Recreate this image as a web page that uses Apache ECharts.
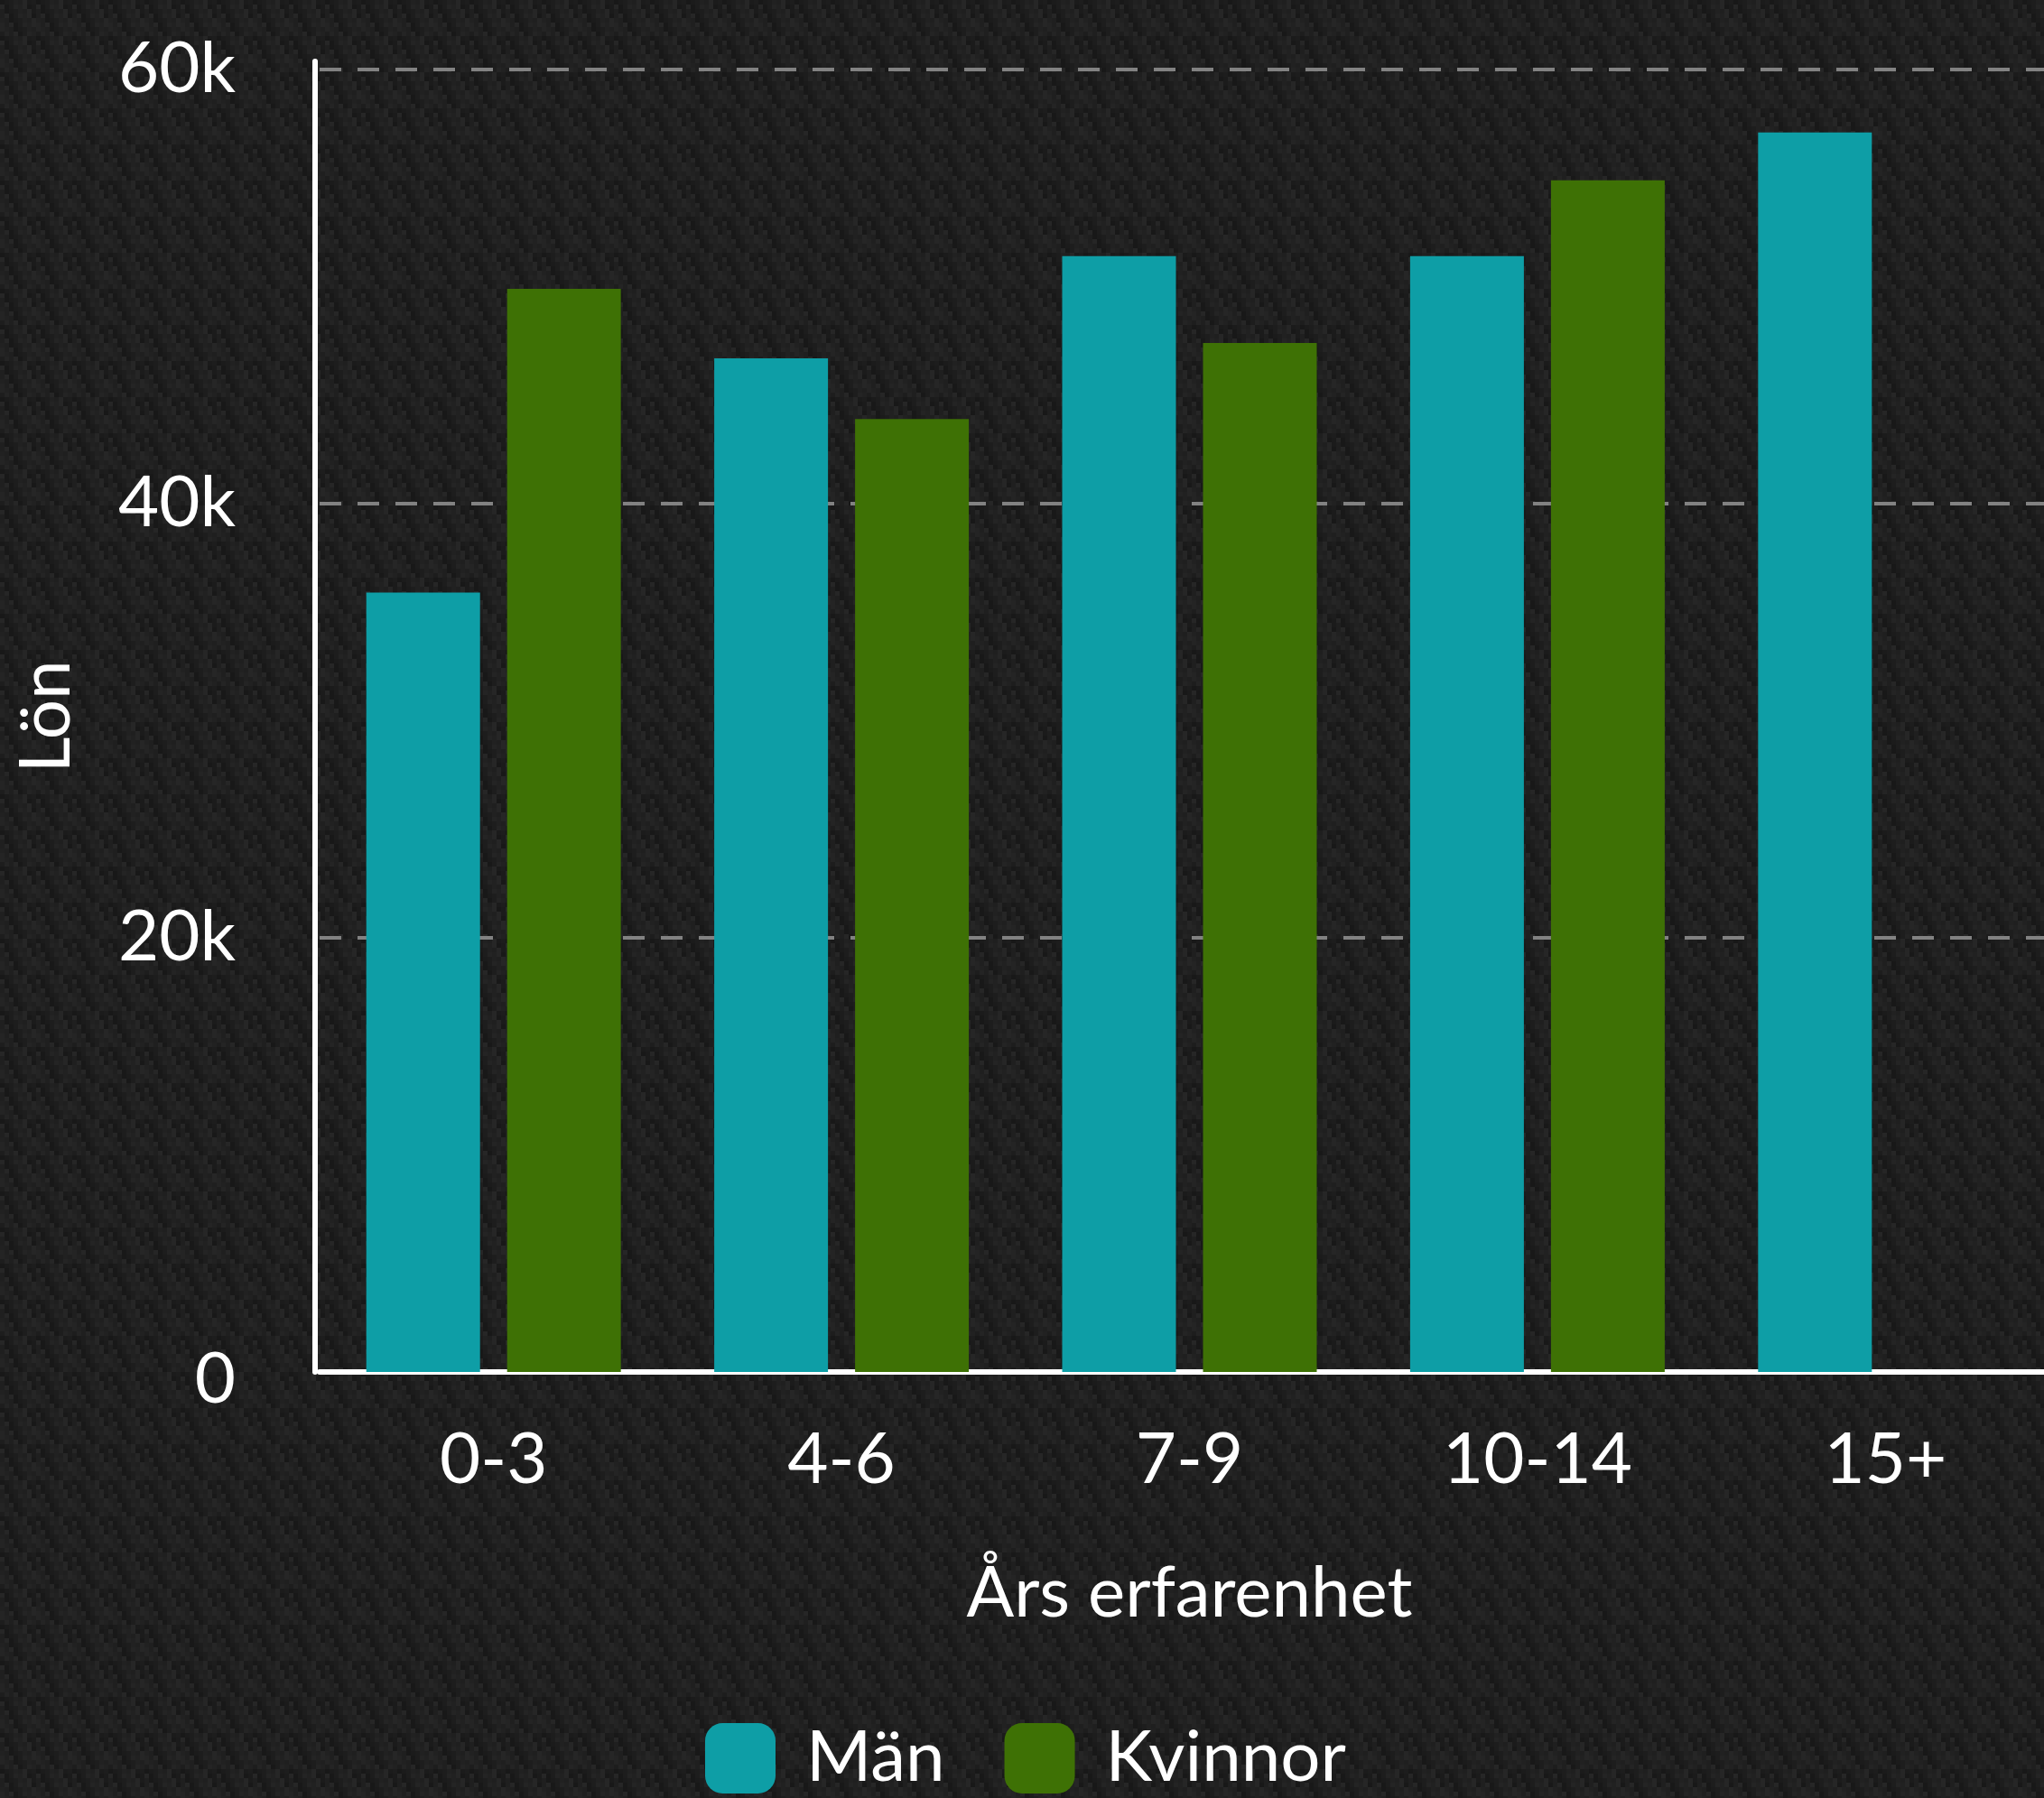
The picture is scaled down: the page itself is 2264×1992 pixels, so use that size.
<!DOCTYPE html>
<html>
<head>
<meta charset="utf-8">
<script src="https://cdn.jsdelivr.net/npm/echarts@6/dist/echarts.min.js"></script>
<style>
html,body{margin:0;padding:0;background:#1f1f1f;}
#chart{width:2264px;height:1992px;}
</style>
</head>
<body>
<div id="chart"></div>
<script>
const categories = ['0-3', '4-6', '7-9', '10-14', '15+'];
const manValues = [35900, 46700, 51400, 51400, 57100];
const kvinnorValues = [49900, 43900, 47400, 54900, null];
const seriesNames = ['Män', 'Kvinnor'];
const yTicks = [0, 20000, 40000, 60000];

// background texture tile
function makeTile() {
  const c = document.createElement('canvas');
  const cell = 5, n = 8;
  c.width = c.height = cell * n;
  const ctx = c.getContext('2d');
  const shades = ['#181818', '#1d1d1d', '#212121', '#262626', '#1b1b1b', '#242424', '#1f1f1f'];
  for (let i = 0; i < n; i++) {
    for (let j = 0; j < n; j++) {
      ctx.fillStyle = shades[(i * 3 + j * 2 + ((i + j) % 3)) % shades.length];
      ctx.fillRect(i * cell, j * cell, cell, cell);
    }
  }
  return c;
}

const chart = echarts.init(document.getElementById('chart'), null, {renderer: 'canvas'});
const font = 'Lato';
const fs = 78;
chart.setOption({
  backgroundColor: {image: makeTile(), repeat: 'repeat'},
  textStyle: {fontFamily: font},
  animation: false,
  grid: {left: 354, right: -17, top: 68, bottom: 472, containLabel: false, outerBoundsMode: 'none'},
  legend: {
    data: seriesNames,
    left: 776,
    top: 1904,
    itemWidth: 78,
    itemHeight: 78,
    itemGap: 66,
    icon: 'roundRect',
    textStyle: {color: '#ffffff', fontSize: fs, fontFamily: font, padding: [0, 0, 0, 29]}
  },
  xAxis: {
    type: 'category',
    data: categories,
    offset: 3,
    name: 'Års erfarenhet',
    nameLocation: 'middle',
    nameGap: 204,
    nameTextStyle: {color: '#ffffff', fontSize: fs, fontFamily: font},
    axisLine: {show: true, lineStyle: {color: '#ffffff', width: 6}},
    axisTick: {show: false},
    axisLabel: {color: '#ffffff', fontSize: fs, fontFamily: font, margin: 56},
    splitLine: {show: false}
  },
  yAxis: {
    type: 'value',
    min: yTicks[0],
    max: 60375,
    interval: yTicks[1] - yTicks[0],
    offset: 5,
    name: 'Lön',
    nameLocation: 'middle',
    nameRotate: 90,
    nameGap: 258,
    nameTextStyle: {color: '#ffffff', fontSize: fs, fontFamily: font},
    axisLine: {show: true, lineStyle: {color: '#ffffff', width: 6}},
    axisTick: {show: false},
    axisLabel: {
      color: '#ffffff', fontSize: fs, fontFamily: font, margin: 88,
      showMaxLabel: false,
      formatter: v => (yTicks.indexOf(v) < 0 ? '' : (v === 0 ? '{z|0}' : (v / 1000) + 'k')),
      rich: {z: {color: '#ffffff', fontSize: fs, fontFamily: font, padding: [18, 0, 0, 0]}}
    },
    splitLine: {show: true, showMaxLine: false, lineStyle: {color: '#828282', width: 4, type: [24, 18]}}
  },
  series: [
    {name: seriesNames[0], type: 'bar', data: manValues, barWidth: 126, barGap: '23.8%', itemStyle: {color: '#0e9ea6'}},
    {name: seriesNames[1], type: 'bar', data: kvinnorValues, barWidth: 126, barGap: '23.8%', itemStyle: {color: '#3e7105'}}
  ]
});
</script>
</body>
</html>
